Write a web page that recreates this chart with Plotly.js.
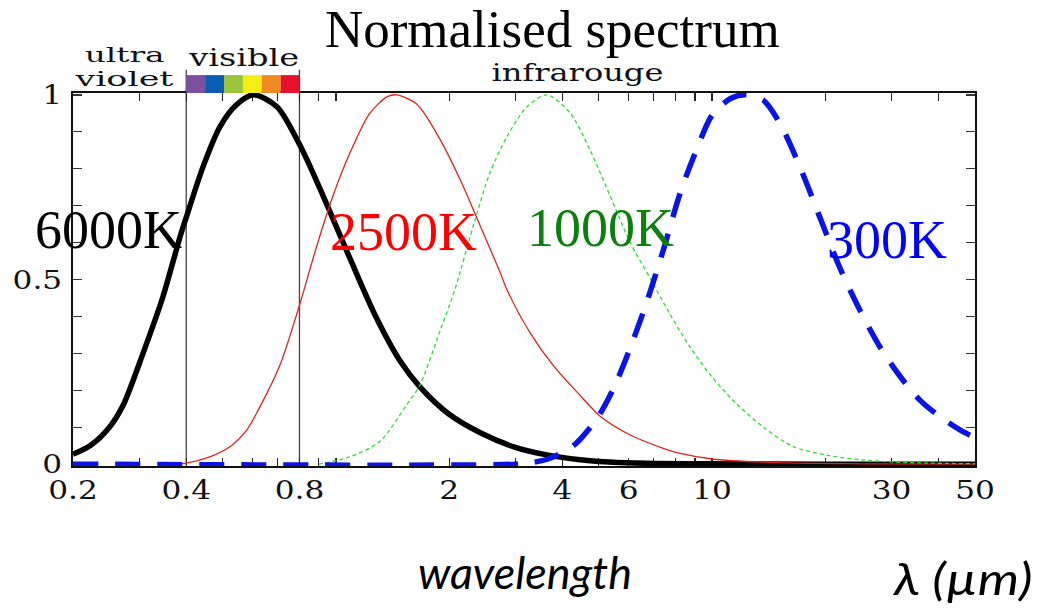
<!DOCTYPE html>
<html>
<head>
<meta charset="utf-8">
<script src="https://cdn.plot.ly/plotly-3.0.1.min.js"></script>
<style>html,body{margin:0;padding:0;background:#fff;}#chart{width:1052px;height:608px;}</style>
</head>
<body>
<div id="chart"></div>
<script>
// Wavelength (µm) and normalised spectrum values
const lambda6000 = [0.2, 0.222, 0.25, 0.272, 0.307, 0.347, 0.385, 0.4, 0.444, 0.492, 0.544, 0.603, 0.697, 0.8, 0.908, 1.09, 1.28, 1.48, 1.67, 2.0, 2.42, 2.97, 3.64, 4.46, 5.47, 7.0, 10, 20, 50];
const flux6000   = [0.027, 0.05, 0.10, 0.16, 0.30, 0.454, 0.615, 0.668, 0.807, 0.914, 0.973, 1.0, 0.968, 0.866, 0.745, 0.557, 0.397, 0.28, 0.21, 0.135, 0.085, 0.047, 0.025, 0.012, 0.005, 0.002, 0.001, 0, 0];

const lambda2500 = [0.35, 0.4, 0.462, 0.524, 0.579, 0.628, 0.711, 0.8, 0.889, 0.982, 1.09, 1.23, 1.37, 1.45, 1.64, 1.89, 2.14, 2.42, 2.73, 2.85, 3.28, 3.79, 4.46, 5.04, 6.06, 7.42, 8.23, 10, 15, 25, 50];
const flux2500   = [0, 0.003, 0.02, 0.048, 0.092, 0.155, 0.27, 0.43, 0.59, 0.726, 0.843, 0.95, 0.995, 1.0, 0.975, 0.88, 0.77, 0.645, 0.52, 0.472, 0.356, 0.266, 0.186, 0.13, 0.079, 0.043, 0.029, 0.014, 0.004, 0.001, 0];

const lambda1000 = [0.9, 1.09, 1.31, 1.54, 1.67, 1.89, 2.07, 2.32, 2.57, 2.85, 3.22, 3.64, 4.20, 4.74, 5.36, 6.06, 6.85, 7.74, 8.75, 10, 11.6, 13.7, 16.4, 20.2, 24.8, 30, 37.3, 50];
const flux1000   = [0, 0.02, 0.062, 0.16, 0.213, 0.36, 0.472, 0.646, 0.79, 0.887, 0.968, 1.0, 0.95, 0.85, 0.726, 0.60, 0.503, 0.405, 0.316, 0.236, 0.164, 0.1, 0.048, 0.024, 0.012, 0.006, 0.003, 0.001];

const lambda300 = [0.2, 3.0, 3.35, 3.71, 4.28, 4.94, 5.47, 6.06, 6.71, 7.42, 8.23, 9.12, 10, 11.2, 12.3, 13.7, 15.2, 17.2, 19.4, 21.9, 24.8, 28.0, 31.7, 35.8, 40.4, 45.7, 50];
const flux300   = [0, 0, 0.005, 0.016, 0.05, 0.123, 0.205, 0.315, 0.44, 0.58, 0.735, 0.855, 0.945, 0.99, 1.0, 0.985, 0.92, 0.80, 0.665, 0.53, 0.414, 0.316, 0.236, 0.172, 0.128, 0.092, 0.072];

const xTickVals = [0.2, 0.3, 0.4, 0.5, 0.6, 0.7, 0.8, 0.9, 1, 2, 3, 4, 5, 6, 7, 8, 9, 10, 20, 30, 40, 50];
const xTickText = ['0.2', '', '0.4', '', '', '', '0.8', '', '', '2', '', '4', '', '6', '', '', '', '10', '', '30', '', '50'];
const yTickVals = [0, 0.1, 0.2, 0.3, 0.4, 0.5, 0.6, 0.7, 0.8, 0.9, 1];
const yTickText = ['0', '', '', '', '', '0.5', '', '', '', '', '1'];

const visibleEdges = [0.4, 0.449, 0.504, 0.566, 0.635, 0.713, 0.8];
const visibleColors = ['#7d4f9f', '#0b5db3', '#9bc43a', '#f6ed14', '#f18a22', '#e8112d'];
const regionBounds = [0.4, 0.8];

const tickFont = {family: 'DejaVu Serif', size: 26, color: '#111'};

const traces = [
  {x: lambda6000, y: flux6000, mode: 'lines', line: {color: '#000', width: 5.5, shape: 'spline', smoothing: 0.8}},
  {x: lambda2500, y: flux2500, mode: 'lines', line: {color: '#e3201b', width: 1.3, shape: 'spline', smoothing: 0.8}},
  {x: lambda1000, y: flux1000, mode: 'lines', line: {color: '#2fdc2f', width: 1.3, dash: '4px,3px', shape: 'spline', smoothing: 0.8}},
  {x: lambda300, y: flux300, mode: 'lines', line: {color: '#0a14e6', width: 5.5, dash: '25px,17px', shape: 'spline', smoothing: 0.8}}
];

const shapes = [];
for (let i = 0; i < visibleColors.length; i++) {
  shapes.push({type: 'rect', xref: 'x', yref: 'paper', x0: visibleEdges[i], x1: visibleEdges[i + 1], y0: 1.0, y1: 1.048,
    fillcolor: visibleColors[i], line: {width: 0}, layer: 'above'});
}
regionBounds.forEach(v => shapes.push({type: 'line', xref: 'x', yref: 'paper', x0: v, x1: v, y0: 0, y1: 1.062,
  line: {color: '#444', width: 1.3}, layer: 'below'}));

function pl(px) { return (px - 73) / 902; }
function pv(py) { return (466 - py) / 373; }

const regionFont = {family: 'DejaVu Serif', size: 24, color: '#111'};
const uvFont = {family: 'DejaVu Serif', size: 21, color: '#111'};
const tempFont = (c) => ({family: 'Liberation Serif', size: 54, color: c});
const annotations = [
  {text: '6000K', x: pl(34), y: pv(230), xanchor: 'left', yanchor: 'middle', font: tempFont('#000')},
  {text: '2500K', x: pl(329), y: pv(232), xanchor: 'left', yanchor: 'middle', font: tempFont('#ff0000')},
  {text: '1000K', x: pl(526), y: pv(228), xanchor: 'left', yanchor: 'middle', font: tempFont('#0b800b')},
  {text: '300K', x: pl(826), y: pv(240), xanchor: 'left', yanchor: 'middle', font: tempFont('#0000ff')},
  {text: 'ultra', x: pl(124), y: pv(55), xanchor: 'center', yanchor: 'middle', font: uvFont},
  {text: 'violet', x: pl(124), y: pv(79), xanchor: 'center', yanchor: 'middle', font: uvFont},
  {text: 'visible', x: pl(243), y: pv(58), xanchor: 'center', yanchor: 'middle', font: regionFont},
  {text: 'infrarouge', x: pl(577), y: pv(73), xanchor: 'center', yanchor: 'middle', font: regionFont},
  {text: 'wavelength', x: pl(525), y: pv(572), xanchor: 'center', yanchor: 'middle', font: {family: 'Lato', size: 44, color: '#000', style: 'italic'}},
  {text: 'λ (µm)', x: pl(962), y: pv(578), xanchor: 'center', yanchor: 'middle', font: {family: 'Lato', size: 44, color: '#000', style: 'italic'}}
].map(a => Object.assign({xref: 'paper', yref: 'paper', showarrow: false, borderpad: 0}, a));

// Horizontal stretch of the reference lettering (target widths in px)
const stretchWidths = {'ultra': 80, 'violet': 98, 'visible': 110, 'infrarouge': 172, 'wavelength': 214, 'λ (µm)': 139};
const tickStretch = 1.2;

const layout = {
  width: 1052, height: 608,
  margin: {l: 73, r: 77, t: 93, b: 142},
  paper_bgcolor: '#fff', plot_bgcolor: '#fff',
  showlegend: false,
  title: {text: 'Normalised spectrum', x: 0.525, xanchor: 'center', y: 0.954, yanchor: 'middle',
    font: {family: 'Liberation Serif', size: 53, color: '#000'}},
  xaxis: {type: 'log', range: [Math.log10(0.2), Math.log10(50)], tickmode: 'array', tickvals: xTickVals, ticktext: xTickText,
    ticks: 'inside', ticklen: 8, tickwidth: 1.3, tickcolor: '#222', showline: true, linecolor: '#111', linewidth: 1.6,
    mirror: 'ticks', showgrid: false, zeroline: false, tickfont: tickFont, layer: 'below traces', ticklabelstandoff: 0},
  yaxis: {range: [-0.005, 1.005], tickmode: 'array', tickvals: yTickVals, ticktext: yTickText,
    ticks: 'inside', ticklen: 9, tickwidth: 1.3, tickcolor: '#333', showline: true, linecolor: '#111', linewidth: 1.6,
    mirror: 'ticks', showgrid: false, zeroline: false, tickfont: tickFont, layer: 'below traces', ticklabelstandoff: 4},
  yaxis2: {range: [-0.005, 1.005], overlaying: 'y', tickmode: 'array', tickvals: [0.5], ticks: 'inside', ticklen: 17, tickwidth: 1.3,
    tickcolor: '#333', showticklabels: false, showline: false, showgrid: false, zeroline: false, mirror: 'ticks'},
  shapes: shapes,
  annotations: annotations
};

function stretch(el, target) {
  el.setAttribute('textLength', target);
  el.setAttribute('lengthAdjust', 'spacingAndGlyphs');
}

Plotly.newPlot('chart', traces, layout, {displayModeBar: false, staticPlot: true}).then(() => {
  document.querySelectorAll('.annotation-text').forEach(el => {
    const t = el.textContent;
    if (stretchWidths[t]) stretch(el, stretchWidths[t]);
  });
  document.querySelectorAll('.xtick text, .ytick text').forEach(el => {
    if (el.textContent) stretch(el, el.getComputedTextLength() * tickStretch);
  });
});
</script>
</body>
</html>
